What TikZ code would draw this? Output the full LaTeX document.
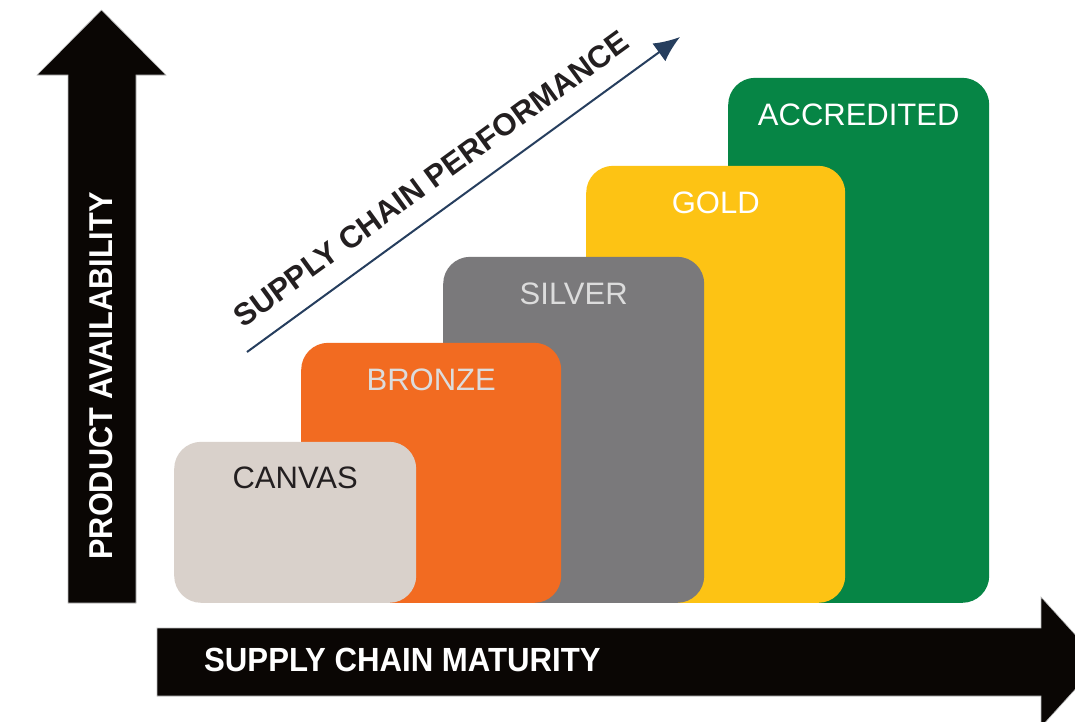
\documentclass[tikz,border=0pt]{standalone}
\usepackage{fontspec}
\setmainfont{Liberation Sans}
\newfontfamily\axisfont{Liberation Sans}[FakeStretch=0.93]
\usetikzlibrary{positioning,arrows.meta}

\definecolor{canvasgrey}{HTML}{D9D1CB}
\definecolor{bronzeor}{HTML}{F26B21}
\definecolor{silvergr}{HTML}{7A797B}
\definecolor{goldye}{HTML}{FDC314}
\definecolor{accgreen}{HTML}{068545}
\definecolor{axisblack}{HTML}{0A0604}
\definecolor{perfnavy}{HTML}{263E5E}
\definecolor{darktext}{HTML}{231F20}
\definecolor{lighttext}{HTML}{DCDCDC}

\begin{document}
\begin{tikzpicture}[x=1pt,y=-1pt,
  tier/.style={inner sep=0pt, rounded corners=27pt, anchor=south west},
  tiertext/.style={inner sep=0pt, font=\fontsize{31}{34}\selectfont, text height=23pt, text depth=0pt},
  axistext/.style={inner sep=0pt, text=white, font=\axisfont\bfseries\fontsize{33}{36}\selectfont},
  bigarrow/.style={fill=axisblack, draw=gray!50, line width=0.6pt}]
\useasboundingbox (0,0) rectangle (1075,721);
\clip (0,0) rectangle (1075,721);
\fill[white] (0,0) rectangle (1075,721);

% tiers, back to front
\node[tier, fill=accgreen, minimum width=261pt, minimum height=525pt] (acc) at (728,603) {};
\node[tier, fill=goldye, minimum width=259pt, minimum height=437pt] (gold) at (586,603) {};
\node[tier, fill=silvergr, minimum width=261pt, minimum height=346pt] (silver) at (443,603) {};
\node[tier, fill=bronzeor, minimum width=260pt, minimum height=260pt] (bronze) at (301,603) {};
\node[tier, fill=canvasgrey, minimum width=242pt, minimum height=161pt] (canvas) at (174,603) {};

\node[tiertext, text=white, below=25pt of acc.north] (accT) {ACCREDITED};
\node[tiertext, text=white, below=25pt of gold.north] (goldT) {GOLD};
\node[tiertext, text=lighttext, below=25pt of silver.north] (silverT) {SILVER};
\node[tiertext, text=lighttext, below=25pt of bronze.north] (bronzeT) {BRONZE};
\node[tiertext, text=darktext, below=24pt of canvas.north] (canvasT) {CANVAS};

% axes
\draw[bigarrow] (68,603) -- (68,75) -- (37,75) -- (101.5,10) -- (166,75) -- (136,75) -- (136,603) -- cycle;
\node[axistext, rotate=90] (avail) at (101,376) {PRODUCT AVAILABILITY};
\draw[bigarrow] (157,628) -- (1041,628) -- (1041,597) -- (1100,662) -- (1041,727) -- (1041,696) -- (157,696) -- cycle;
\node[axistext, anchor=west, font=\axisfont\bfseries\fontsize{33.5}{36}\selectfont] (maturity) at (204,660) {SUPPLY CHAIN MATURITY};

% performance
\coordinate (perfS) at (247,352);
\coordinate (perfE) at (680,37);
\draw[perfnavy, line width=2pt, -{Latex[length=26pt,width=22pt]}] (perfS) -- (perfE);
\node[inner sep=0pt, rotate=36, text=darktext, font=\bfseries\fontsize{31}{34}\selectfont] (perf) at (431,179) {SUPPLY CHAIN PERFORMANCE};
\end{tikzpicture}
\end{document}
